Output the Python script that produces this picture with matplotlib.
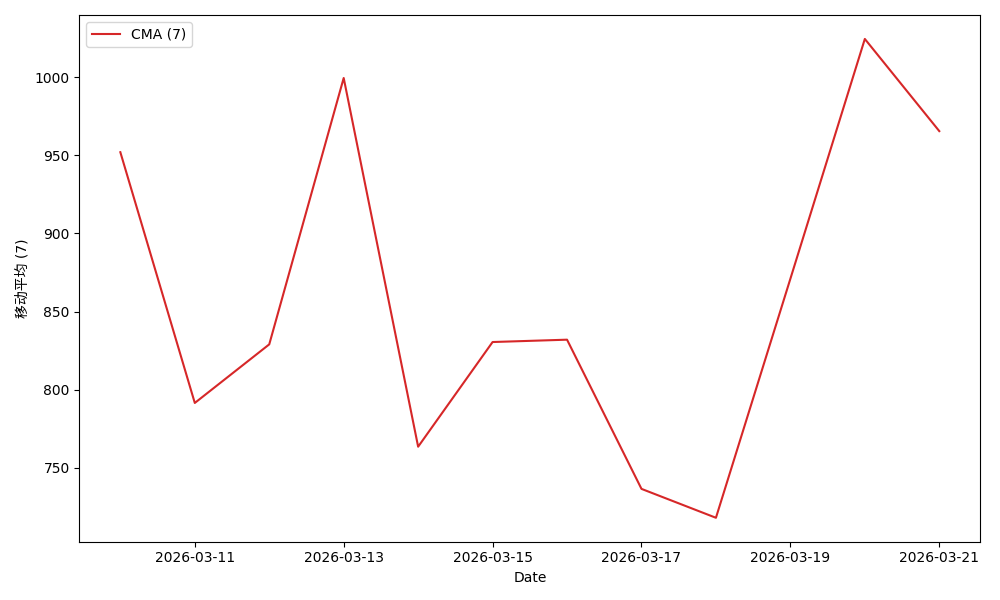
import pandas as pd
import matplotlib
matplotlib.use("Agg")
import matplotlib.pyplot as plt

plt.rcParams['font.family'] = ['DejaVu Sans', 'Noto Sans CJK SC']

# data
dates = pd.date_range("2026-03-10", "2026-03-21", freq="D")
cma_values = [952, 791.5, 829, 999.5, 763.5, 830.5, 832, 736.5, 718, 871, 1024.5, 965.5]
window = 7

fig, ax = plt.subplots(figsize=(10, 6))
ax.plot(dates, cma_values, color="tab:red", label=f"CMA ({window})")
ax.set_xlabel("Date")
ax.set_ylabel(f"移动平均 ({window})")
ax.legend(loc="upper left")
plt.tight_layout()
plt.savefig("out.png", dpi=100)
